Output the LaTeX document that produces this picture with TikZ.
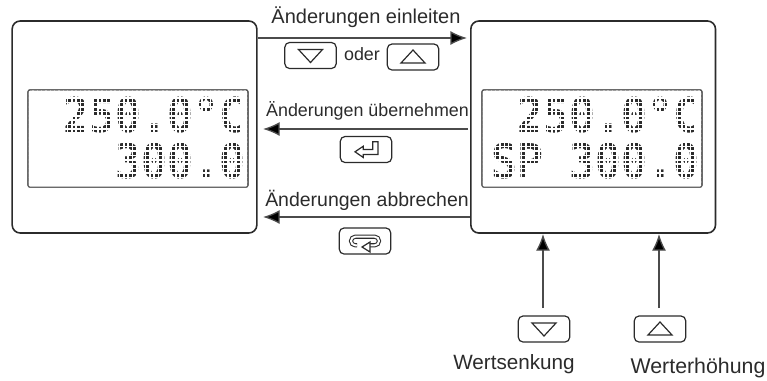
\documentclass[tikz,border=0pt]{standalone}
\usepackage{fontspec}
\setmainfont{Liberation Sans}
\newfontfamily\lcdfont[FakeStretch=0.9]{DejaVu Sans Mono}
\usetikzlibrary{positioning,arrows.meta,calc}
\definecolor{ink}{HTML}{2B2B2B}
\newcommand{\lcdgrid}[1]{
	\begin{scope}
		\clip ([shift={(1,-1)}]#1.south west) rectangle ([shift={(-1,1)}]#1.north east);
		\foreach \gx in {0,...,50} \draw[white, line width=1.2pt] ($(#1.south west)+(\gx*4.33+1.2,0)$) -- ++(0,-100);
		\foreach \gy in {0,...,23} \draw[white, line width=1.2pt] ($(#1.south west)+(0,-\gy*4.4-1.5)$) -- ++(225,0);
	\end{scope}
}
\newcommand{\keydown}[1]{\draw[keyglyph] ($(#1)+(-12,-6)$) -- ++(24,0) -- ($(#1)+(0,7)$) -- cycle;}
\newcommand{\keyup}[1]{\draw[keyglyph] ($(#1)+(-12,6)$) -- ++(24,0) -- ($(#1)+(0,-7)$) -- cycle;}
\begin{document}
\begin{tikzpicture}[x = 0.75pt, y = -0.75pt, >= {Latex[length=12.5pt, width=10.5pt, fill=black]}, on grid,
	panel/.style = {draw = ink, line width = 1.2pt, rounded corners = 6pt, minimum width = 183.5pt, minimum height = 159pt},
	lcd/.style = {draw = ink!80, line width = 0.8pt, rounded corners = 1.5pt, minimum width = 165pt, minimum height = 73pt},
	lcdrow/.style = {inner sep = 0pt, anchor = base east, text = ink, font = \lcdfont\bfseries\fontsize{36pt}{36pt}\selectfont},
	keybox/.style = {draw = ink, line width = 0.9pt, rounded corners = 3.5pt, minimum width = 38.5pt, minimum height = 19.5pt},
	keyglyph/.style = {draw = ink, line width = 0.9pt, line join = miter},
	lbl/.style = {inner sep = 0pt, text = ink},
	flow/.style = {->, draw = ink!85, line width = 1pt}]
	\useasboundingbox (0,0) rectangle (767,380);
	\node[panel] (p0) at (134.5,127) {};
	\node[panel] (p1) [right = 344pt of p0] {};
	\node[lcd] (d0) at (138,138.5) {};
	\node[lcd] (d1) at (592,138.5) {};
	% display texts
	\node[lcdrow] (t00) at (246,132) {250.0°C};
	\node[lcdrow] (t01) at (246,178) {300.0};
	\node[lcdrow] (t10) at (700,132) {250.0°C};
	\node[lcdrow] (t11) at (700,178) {SP 300.0};
	\lcdgrid{d0}
	\lcdgrid{d1}
	\node[lcd] at (d0) {};
	\node[lcd] at (d1) {};
	% keys
	\node[keybox] (kd0) at (310.5,55.5) {};
	\node[keybox] (ku0) at (413,57) {};
	\node[lbl, font = \fontsize{13.4pt}{15pt}\selectfont] (oder) at (362,54) {oder};
	\node[keybox] (ke) at (366,149.5) {};
	\node[keybox] (kc) at (365,241) {};
	\node[keybox] (kd1) at (544,329) {};
	\node[keybox] (ku1) at (660,329) {};
	\keydown{kd0}
	\keyup{ku0}
	\keydown{kd1}
	\keyup{ku1}
	\draw[keyglyph] ($(ke)+(-11,2.3)$) -- ++(8.3,-5.6) -- ++(0,3.3) -- ++(9.4,0) -- ++(0,-7.7) -- ++(5.3,0) -- ++(0,12.7) -- ++(-14.7,0) -- ++(0,3) -- cycle;
	\draw[keyglyph, double = white, double distance = 1.5pt, line width = 0.8pt, rounded corners = 3.2pt] ($(kc)+(-8,4.3)$) -- ++(-6,0) -- ++(0,-8.6) -- ++(28,0) -- ++(0,8.6) -- ++(-9,0);
	\draw[keyglyph, fill = white] ($(kc)+(-3,6)$) -- ++(8,-5) -- ++(0,10) -- cycle;
	% arrows
	\coordinate (a0) at (258,38);
	\coordinate (b0) at (467,38);
	\coordinate (a1) at (468,129);
	\coordinate (b1) at (263,129);
	\coordinate (a2) at (470,217);
	\coordinate (b2) at (263,217);
	\coordinate (a3) at (543,308);
	\coordinate (b3) at (543,234);
	\coordinate (a4) at (659,308);
	\coordinate (b4) at (659,234);
	\draw[flow] (a0) -- (b0);
	\draw[flow] (a1) -- (b1);
	\draw[flow] (a2) -- (b2);
	\draw[flow] (a3) -- (b3);
	\draw[flow] (a4) -- (b4);
	% labels
	\node[lbl, font = \fontsize{15pt}{17pt}\selectfont] (l0) at (366,17) {Änderungen einleiten};
	\node[lbl, font = \fontsize{13.4pt}{15pt}\selectfont] (l1) at (367.5,111) {Änderungen übernehmen};
	\node[lbl, font = \fontsize{14.6pt}{17pt}\selectfont] (l2) at (367,200) {Änderungen abbrechen};
	\node[lbl, font = \fontsize{15.5pt}{17pt}\selectfont] (l3) at (514,364) {Wertsenkung};
	\node[lbl, font = \fontsize{16pt}{18pt}\selectfont] (l4) at (698,368) {Werterhöhung};
\end{tikzpicture}
\end{document}
